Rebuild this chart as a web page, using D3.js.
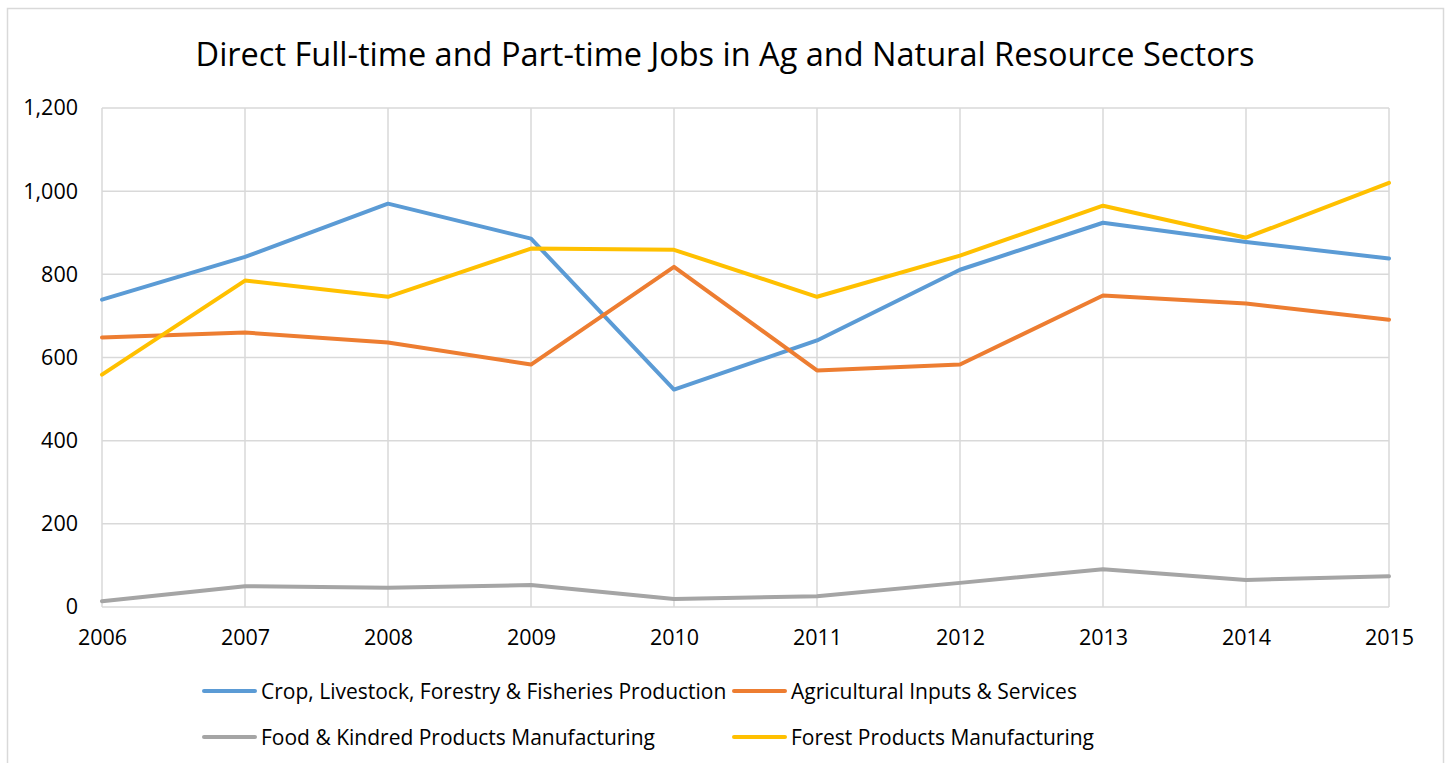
<!DOCTYPE html>
<html>
<head>
<meta charset="utf-8">
<title>Direct Jobs</title>
<style>
body { margin: 0; background: #fff; }
text { font-family: "Open Sans", "Noto Sans", sans-serif; fill: #000; }
.grid line { stroke: #d9d9d9; stroke-width: 1.5px; }
.series { fill: none; stroke-width: 4px; stroke-linejoin: round; stroke-linecap: round; }
</style>
</head>
<body>
<script src="https://cdn.jsdelivr.net/npm/d3@7"></script>
<script>

var years = [2006, 2007, 2008, 2009, 2010, 2011, 2012, 2013, 2014, 2015];

var cropLivestock = [739, 842, 970, 886, 523, 641, 811, 924, 878, 838];
var agInputs      = [648, 660, 636, 583, 818, 569, 583, 749, 730, 691];
var foodKindred   = [14, 50, 46, 53, 19, 26, 58, 91, 65, 74];
var forestProd    = [559, 785, 746, 862, 859, 746, 845, 965, 888, 1020];

var seriesNames = [
  "Crop, Livestock, Forestry & Fisheries Production",
  "Agricultural Inputs & Services",
  "Food & Kindred Products Manufacturing",
  "Forest Products Manufacturing"
];
var seriesColors = ["#5b9bd5", "#ed7d31", "#a5a5a5", "#ffc000"];
var yTicks = [0, 200, 400, 600, 800, 1000, 1200];

var series = [cropLivestock, agInputs, foodKindred, forestProd].map(function(vals, i) {
  return { name: seriesNames[i], color: seriesColors[i], values: vals };
});

var width = 1448, height = 763;
var margin = {top: 108, right: 59, bottom: 156, left: 102};

var svg = d3.select("body").append("svg")
    .attr("width", width)
    .attr("height", height);

// outer chart frame
svg.append("rect")
    .attr("x", 7.5).attr("y", 8.5)
    .attr("width", 1436).attr("height", 770)
    .attr("fill", "#fff")
    .attr("stroke", "#d9d9d9")
    .attr("stroke-width", 1.5);

var x = d3.scaleLinear()
    .domain([years[0], years[years.length - 1]])
    .range([margin.left, width - margin.right]);

var y = d3.scaleLinear()
    .domain([0, 1200])
    .range([height - margin.bottom, margin.top]);

// gridlines
var grid = svg.append("g").attr("class", "grid");
grid.selectAll(".h").data(yTicks).enter().append("line")
    .attr("x1", x.range()[0]).attr("x2", x.range()[1])
    .attr("y1", function(d) { return y(d); })
    .attr("y2", function(d) { return y(d); });
grid.selectAll(".v").data(years).enter().append("line")
    .attr("x1", function(d) { return x(d); })
    .attr("x2", function(d) { return x(d); })
    .attr("y1", y(0)).attr("y2", y(1200));

// y axis labels
var yAxis = d3.axisLeft(y).tickValues(yTicks).tickSize(0).tickPadding(24)
    .tickFormat(d3.format(","));
svg.append("g")
    .attr("transform", "translate(" + margin.left + ",0)")
    .call(yAxis)
    .call(function(g) { g.select(".domain").remove(); })
    .selectAll("text")
    .style("font-size", "21.5px")
    .style("font-family", "'Open Sans', sans-serif")
    .attr("fill", "#000");

// x axis labels
var xAxis = d3.axisBottom(x).tickValues(years).tickSize(0).tickPadding(23)
    .tickFormat(d3.format("d"));
svg.append("g")
    .attr("transform", "translate(0," + y(0) + ")")
    .call(xAxis)
    .call(function(g) { g.select(".domain").remove(); })
    .selectAll("text")
    .style("font-size", "21.5px")
    .style("font-family", "'Open Sans', sans-serif")
    .attr("fill", "#000");

// lines
var line = d3.line()
    .x(function(d, i) { return x(years[i]); })
    .y(function(d) { return y(d); });

svg.selectAll(".series")
    .data(series)
    .enter().append("path")
    .attr("class", "series")
    .attr("stroke", function(d) { return d.color; })
    .attr("d", function(d) { return line(d.values); });

// title
svg.append("text")
    .attr("x", 725)
    .attr("y", 66)
    .attr("text-anchor", "middle")
    .style("font-size", "32.5px")
    .text("Direct Full-time and Part-time Jobs in Ag and Natural Resource Sectors");

// legend
var legendPos = [[203, 691], [733, 691], [203, 737], [733, 737]];
var legend = svg.selectAll(".legend")
    .data(series)
    .enter().append("g")
    .attr("class", "legend")
    .attr("transform", function(d, i) { return "translate(" + legendPos[i][0] + "," + legendPos[i][1] + ")"; });
legend.append("line")
    .attr("x1", 1).attr("x2", 52)
    .attr("y1", 0).attr("y2", 0)
    .attr("stroke", function(d) { return d.color; })
    .attr("stroke-width", 4)
    .attr("stroke-linecap", "round");
legend.append("text")
    .attr("x", 58)
    .attr("y", 7.5)
    .style("font-size", "21px")
    .text(function(d) { return d.name; });

</script>
</body>
</html>
